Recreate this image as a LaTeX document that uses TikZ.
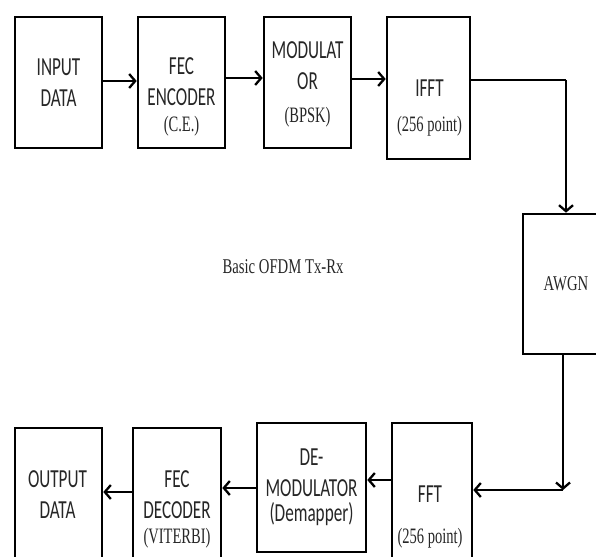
\documentclass[tikz,border=0pt]{standalone}
\usepackage{fontspec}
\setmainfont{Carlito}
\newfontfamily\tms{Liberation Serif}
\usetikzlibrary{arrows.meta}
\newcommand\sq[1]{\scalebox{0.66}[1]{\parbox[t]{160pt}{\centering #1}}}
\newcommand\tm[1]{{\tms\fontsize{22}{26}\selectfont #1}}

\begin{document}
\begin{tikzpicture}[x=1pt,y=-1pt,
    blk/.style={draw, line width=2.6pt, inner sep=0pt},
    lbl/.style={inner sep=0pt, anchor=base, text=black!85,
                font=\fontsize{26}{31}\selectfont},
    link/.style={line width=2.3pt, -{Straight Barb[length=6pt,width=14pt]}}]
  \useasboundingbox (0,0) rectangle (596,556);
  \clip (0,0) rectangle (596,556);
  % transmitter
  \node[blk, minimum width=87pt, minimum height=131pt] (input)  at (58.5,82.5) {};
  \node[blk, minimum width=87pt, minimum height=131pt] (fecenc) at (181.5,82.5) {};
  \node[blk, minimum width=87pt, minimum height=131pt] (mod)    at (307.5,82.5) {};
  \node[blk, minimum width=83pt, minimum height=142pt] (ifft)   at (428.5,88) {};
  \node[lbl] (inputT)  at (58.5,76)  {\sq{INPUT\\ DATA}};
  \node[lbl] (fecencT) at (181.5,75) {\sq{FEC\\ ENCODER\\[-5pt] \tm{(C.E.)}}};
  \node[lbl] (modT)    at (307.5,59) {\sq{MODULAT\\ OR\\[2pt] \tm{(BPSK)}}};
  \node[lbl] (ifftT)   at (429.5,97) {\sq{IFFT\\[4pt] \tm{(256 point)}}};
  % channel
  \node[blk, minimum width=86pt, minimum height=140pt, text=black!85,
        font=\tms\fontsize{21}{25}\selectfont] (awgn) at (566,284)
        {\scalebox{0.7}[1]{AWGN}};
  \node[anchor=base, inner sep=0pt, text=black!85,
        font=\tms\fontsize{21}{25}\selectfont] (title) at (283,273)
        {\scalebox{0.7}[1]{Basic OFDM Tx-Rx}};
  % receiver
  \node[blk, minimum width=80pt,  minimum height=177pt] (fft)    at (432,511.5) {};
  \node[blk, minimum width=109pt, minimum height=129pt] (demod)  at (311.5,487.5) {};
  \node[blk, minimum width=88pt,  minimum height=172pt] (fecdec) at (177,514) {};
  \node[blk, minimum width=87pt,  minimum height=172pt] (output) at (58.5,514) {};
  \node[lbl] (fftT)    at (430,502)   {\sq{FFT\\[10pt] \tm{(256 point)}}};
  \node[lbl] (demodT)  at (311.5,465) {\sq{DE-\\ MODULATOR\\[-6pt] (Demapper)}};
  \node[lbl] (fecdecT) at (177,487)   {\sq{FEC\\ DECODER\\[-6pt] \tm{(VITERBI)}}};
  \node[lbl] (outputT) at (57.5,487)  {\sq{OUTPUT\\ DATA}};
  % links
  \coordinate (bend) at (566,80);
  \coordinate (turn) at (563,490);
  \draw[link] (input.east |- 0,81) -- (fecenc.west |- 0,81);
  \draw[link] (fecenc.east |- 0,78) -- (mod.west |- 0,78);
  \draw[link] (mod.east |- 0,79) -- (ifft.west |- 0,79);
  \draw[line width=2.3pt] (ifft.east |- bend) -- (bend);
  \draw[link] (bend) -- (awgn.north -| bend);
  \draw[link] (awgn.south -| turn) -- (turn);
  \draw[link] (turn) -- (fft.east |- turn);
  \draw[link] (fft.west |- 0,480) -- (demod.east |- 0,480);
  \draw[link] (demod.west |- 0,488) -- (fecdec.east |- 0,488);
  \draw[link] (fecdec.west |- 0,492) -- (output.east |- 0,492);
\end{tikzpicture}
\end{document}
